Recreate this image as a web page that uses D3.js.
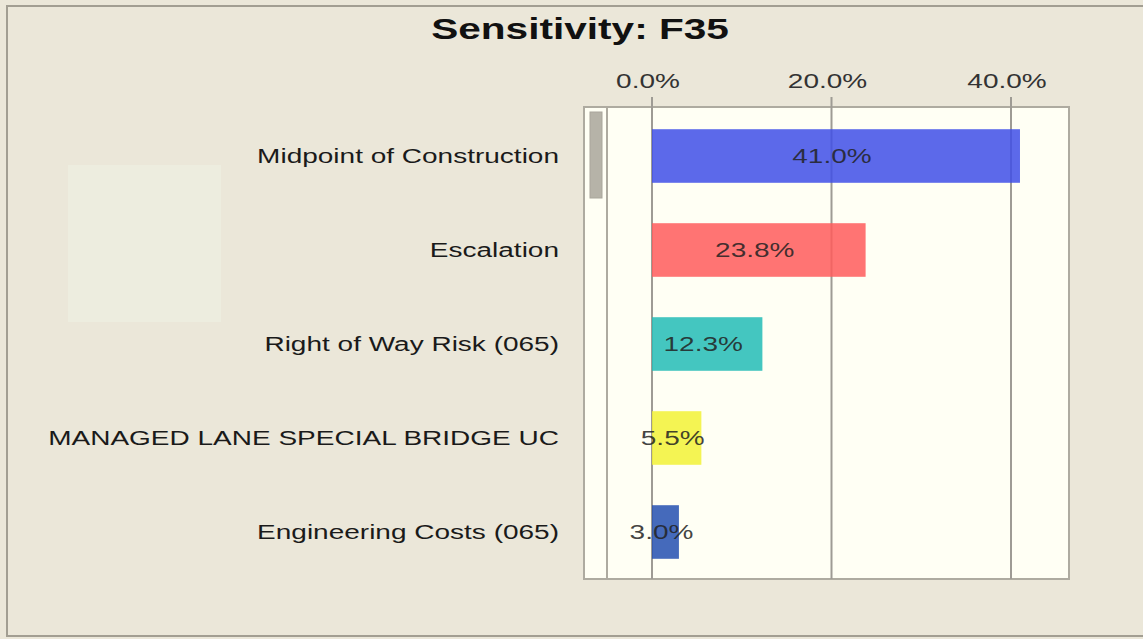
<!DOCTYPE html>
<html>
<head>
<meta charset="utf-8">
<script src="https://cdn.jsdelivr.net/npm/d3@7"></script>
<style>
  html, body { margin: 0; padding: 0; background: #ebe7d9; }
  svg { display: block; font-family: "Liberation Sans", Arial, sans-serif; }
</style>
</head>
<body>
<div id="chart"></div>
<script>
// chart data
var categories = [
    "Midpoint of Construction",
    "Escalation",
    "Right of Way Risk (065)",
    "MANAGED LANE SPECIAL BRIDGE UC",
    "Engineering Costs (065)"
];
var values = [41.0, 23.8, 12.3, 5.5, 3.0];
var barColors = ["#3f4fe8", "#ff5c5c", "#23bcb6", "#f2f236", "#2450b0"];
var tickValues = [0, 20, 40];
var title = "Sensitivity: F35";

var width = 1143, height = 639;
var sx = 1.4; // the source image is horizontally stretched

var svg = d3.select("#chart").append("svg")
    .attr("width", width)
    .attr("height", height);

svg.append("rect")
    .attr("width", width).attr("height", height)
    .attr("fill", "#ebe7d9");

// outer frame
svg.append("path")
    .attr("d", "M1143,6H7V636H1143")
    .attr("fill", "none")
    .attr("stroke", "#a29e92")
    .attr("stroke-width", 2);

// faint patch on the left
svg.append("rect")
    .attr("x", 68).attr("y", 165).attr("width", 153).attr("height", 157)
    .attr("fill", "#ededdf");

var box = {x: 584, y: 107, w: 485, h: 472};

var x = d3.scaleLinear()
    .domain([0, 40])
    .range([652, 1011]);

var y = d3.scaleBand()
    .domain(categories)
    .range([box.y + 2, box.y + box.h])
    .paddingInner(0.43)
    .paddingOuter(0.215);

// plot area
svg.append("rect")
    .attr("x", box.x).attr("y", box.y)
    .attr("width", box.w).attr("height", box.h)
    .attr("fill", "#fffff4")
    .attr("stroke", "#aeaba0")
    .attr("stroke-width", 2);

// scrollbar bits
svg.append("line")
    .attr("x1", 607).attr("x2", 607)
    .attr("y1", box.y).attr("y2", box.y + box.h)
    .attr("stroke", "#aeaba0").attr("stroke-width", 2);
svg.append("rect")
    .attr("x", 590).attr("y", 112).attr("width", 12).attr("height", 86)
    .attr("fill", "#b6b3a8")
    .attr("stroke", "#a9a69b");

// gridlines
svg.append("g").selectAll("line")
    .data(tickValues)
    .enter().append("line")
        .attr("x1", function(d) { return x(d); })
        .attr("x2", function(d) { return x(d); })
        .attr("y1", 97)
        .attr("y2", box.y + box.h)
        .attr("stroke", "#9e9b94")
        .attr("stroke-width", 2);

// tick labels
svg.append("g").selectAll("text")
    .data(tickValues)
    .enter().append("text")
        .attr("transform", function(d) { return "translate(" + (x(d) - 4) + ",88)scale(" + sx + ",1)"; })
        .style("text-anchor", "middle")
        .style("font-size", "20px")
        .attr("fill", "#333")
        .text(function(d) { return d.toFixed(1) + "%"; });

// title
svg.append("text")
    .attr("transform", "translate(580,39)scale(" + sx + ",1)")
    .style("text-anchor", "middle")
    .style("font-size", "29px")
    .style("font-weight", "bold")
    .attr("fill", "#111")
    .text(title);

// bars
svg.append("g").selectAll("rect")
    .data(values)
    .enter().append("rect")
        .attr("x", x(0))
        .attr("y", function(d, i) { return y(categories[i]); })
        .attr("width", function(d) { return x(d) - x(0); })
        .attr("height", y.bandwidth())
        .attr("fill", function(d, i) { return barColors[i]; })
        .attr("fill-opacity", 0.85);

// category labels
svg.append("g").selectAll("text")
    .data(categories)
    .enter().append("text")
        .attr("transform", function(d) { return "translate(559," + (y(d) + y.bandwidth() / 2) + ")scale(" + sx + ",1)"; })
        .attr("dy", "0.35em")
        .style("text-anchor", "end")
        .style("font-size", "20px")
        .attr("fill", "#1a1a1a")
        .text(function(d) { return d; });

// value labels
svg.append("g").selectAll("text")
    .data(values)
    .enter().append("text")
        .attr("transform", function(d, i) {
            var cx = (x(0) + x(d)) / 2 - 4;
            return "translate(" + cx + "," + (y(categories[i]) + y.bandwidth() / 2) + ")scale(" + sx + ",1)";
        })
        .attr("dy", "0.35em")
        .style("text-anchor", "middle")
        .style("font-size", "20px")
        .attr("fill", "#222")
        .attr("fill-opacity", 0.85)
        .text(function(d) { return d.toFixed(1) + "%"; });
</script>
</body>
</html>
